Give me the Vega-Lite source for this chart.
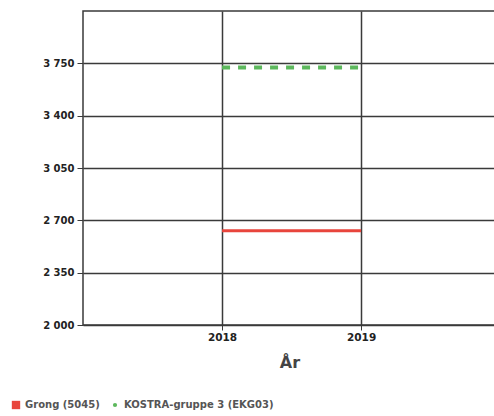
{
  "$schema": "https://vega.github.io/schema/vega-lite/v6.json",
  "autosize": {"type": "none"},
  "padding": {"left": 83, "top": 11, "right": 0, "bottom": 91},
  "width": 413,
  "height": 314,
  "background": "white",
  "config": {
    "view": {"stroke": "#3a3a3a", "strokeWidth": 1.5},
    "font": "DejaVu Sans"
  },
  "data": {
    "values": [
      {"series": "Grong (5045)", "year": 2018, "value": 2630},
      {"series": "Grong (5045)", "year": 2019, "value": 2630},
      {"series": "KOSTRA-gruppe 3 (EKG03)", "year": 2018, "value": 3722},
      {"series": "KOSTRA-gruppe 3 (EKG03)", "year": 2019, "value": 3722}
    ]
  },
  "encoding": {
    "x": {
      "field": "year",
      "type": "quantitative",
      "scale": {"domain": [2017, 2019.97], "nice": false, "zero": false},
      "axis": {
        "values": [2018, 2019],
        "format": "d",
        "title": "År",
        "titleFontSize": 16,
        "titleFontWeight": "bold",
        "titleColor": "#444",
        "titlePadding": 12,
        "labelFontSize": 10.5,
        "labelFontWeight": "bold",
        "labelColor": "#222",
        "labelPadding": 2,
        "domain": false,
        "grid": true,
        "gridColor": "#3a3a3a",
        "gridWidth": 1.5,
        "ticks": true,
        "tickColor": "#3a3a3a",
        "tickSize": 5
      }
    },
    "y": {
      "field": "value",
      "type": "quantitative",
      "scale": {"domain": [2000, 4100], "nice": false, "zero": false},
      "axis": {
        "values": [2000, 2350, 2700, 3050, 3400, 3750],
        "labelExpr": "replace(format(datum.value, ','), ',', ' ')",
        "title": null,
        "labelFontSize": 10,
        "labelFontWeight": "bold",
        "labelColor": "#222",
        "labelPadding": 3,
        "domain": false,
        "grid": true,
        "gridColor": "#3a3a3a",
        "gridWidth": 1.5,
        "ticks": true,
        "tickColor": "#3a3a3a",
        "tickSize": 6
      }
    },
    "color": {
      "field": "series",
      "type": "nominal",
      "scale": {"domain": ["Grong (5045)", "KOSTRA-gruppe 3 (EKG03)"], "range": ["#e8453c", "#5cb85c"]},
      "legend": {
        "title": null,
        "orient": "none",
        "legendX": -72,
        "legendY": 389,
        "direction": "horizontal",
        "labelFontSize": 10,
        "labelFontWeight": "bold",
        "labelColor": "#555",
        "columnPadding": 10,
        "symbolType": "square",
        "encode": {
          "symbols": {
            "update": {
              "shape": {"signal": "datum.value === 'Grong (5045)' ? 'square' : 'circle'"},
              "size": {"signal": "datum.value === 'Grong (5045)' ? 70 : 18"},
              "fill": {"signal": "datum.value === 'Grong (5045)' ? '#e8453c' : '#5cb85c'"},
              "strokeWidth": {"value": 0},
              "fillOpacity": {"value": 1}
            }
          }
        }
      }
    }
  },
  "layer": [
    {
      "transform": [{"filter": "datum.series === 'Grong (5045)'"}],
      "mark": {"type": "line", "strokeWidth": 3}
    },
    {
      "transform": [{"filter": "datum.series !== 'Grong (5045)'"}],
      "mark": {"type": "line", "strokeWidth": 4, "strokeDash": [8, 8]}
    }
  ]
}
